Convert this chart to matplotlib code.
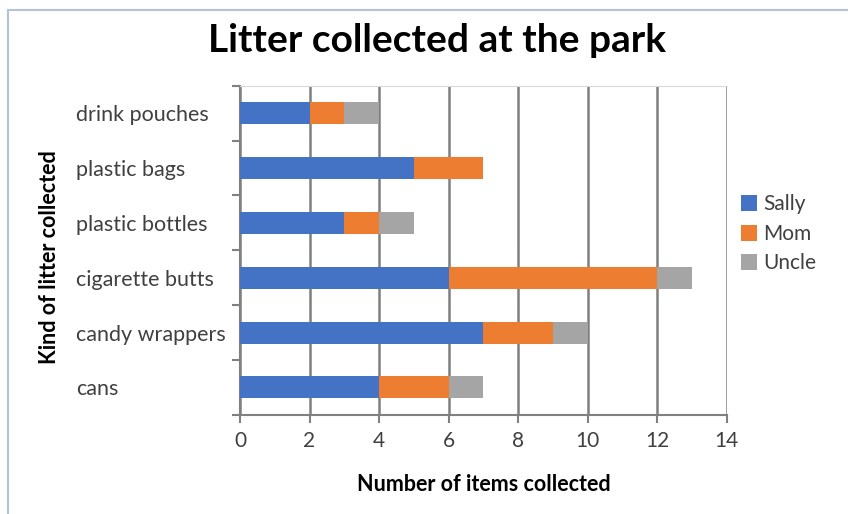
import numpy as np
import matplotlib.pyplot as plt
from matplotlib.patches import Rectangle

plt.rcParams['font.family'] = ['Lato', 'DejaVu Sans']

categories = ['cans', 'candy wrappers', 'cigarette butts',
              'plastic bottles', 'plastic bags', 'drink pouches']
sally = [4, 7, 6, 3, 5, 2]
mom = [2, 2, 6, 1, 2, 1]
uncle = [1, 1, 1, 1, 0, 1]
series_names = ['Sally', 'Mom', 'Uncle']
colors = ['#4472C4', '#ED7D31', '#A5A5A5']

fig = plt.figure(figsize=(8.48, 5.14), dpi=100)
ax = fig.add_axes([0.283, 0.193, 0.574, 0.640])

# outer chart frame
fig.patches.append(Rectangle((8 / 848, -0.1), 1.1, 1 - 10 / 514 + 0.1,
                             transform=fig.transFigure, fill=False,
                             edgecolor='#b4c2d8', lw=1.5))

y = np.arange(len(categories))
left = np.zeros(len(categories))
for vals, name, c in zip([sally, mom, uncle], series_names, colors):
    ax.barh(y, vals, left=left, height=0.4, color=c, label=name, zorder=3)
    left += np.array(vals)

ax.set_xlim(0, 14)
ax.set_ylim(-0.5, len(categories) - 0.5)
ax.set_xticks(np.arange(0, 15, 2))
ax.set_yticks(y)
ax.set_yticklabels(categories, ha='left')
ax.set_yticks(np.arange(-0.5, len(categories), 1), minor=True)
ax.tick_params(axis='y', which='major', length=0, pad=(240 - 76) * 0.72,
               labelsize=15.5, labelcolor='#404040')
ax.tick_params(axis='y', which='minor', length=6, width=1.5, color='#808080')
ax.tick_params(axis='x', length=6, width=1.5, color='#808080',
               labelsize=15, labelcolor='#404040', pad=6)

ax.grid(axis='x', color='#7f7f7f', lw=1.8, zorder=0)
for s in ['top', 'right']:
    ax.spines[s].set_color('#d9d9d9')
ax.spines['left'].set_color('#808080')
ax.spines['bottom'].set_color('#808080')
ax.spines['left'].set_linewidth(1.5)
ax.spines['bottom'].set_linewidth(1.5)
ax.spines['right'].set_visible(False)

ax.set_xlabel('Number of items collected', fontsize=15.5, fontweight='bold',
              labelpad=16)
fig.text(50 / 848, 0.5, 'Kind of litter collected', rotation=90,
         fontsize=15.5, fontweight='bold', ha='center', va='center')
fig.text(437 / 848, 1 - 40 / 514, 'Litter collected at the park',
         fontsize=28, fontweight='bold', ha='center', va='center')

leg = ax.legend(loc='center left', bbox_to_anchor=(0.99, 0.55), frameon=False,
                fontsize=15, handlelength=0.8, handleheight=0.8,
                handletextpad=0.3, labelspacing=0.45, labelcolor='#404040')

fig.savefig('out.png', dpi=100)
